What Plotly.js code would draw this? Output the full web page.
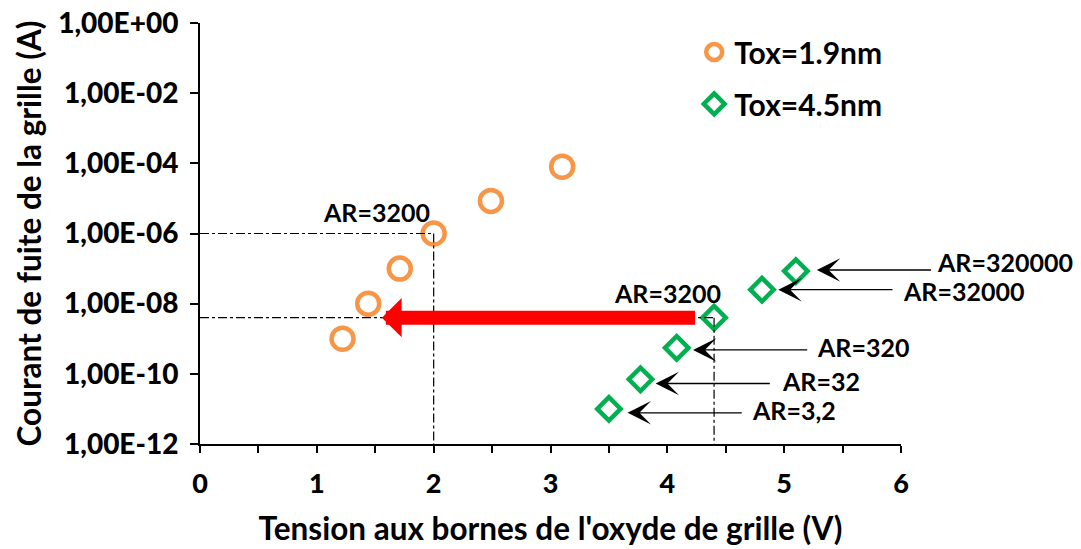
<!DOCTYPE html>
<html>
<head>
<meta charset="utf-8">
<script src="https://cdn.plot.ly/plotly-3.0.1.min.js"></script>
<style>html,body{margin:0;padding:0;background:#fff;}#chart{width:1081px;height:549px;}</style>
</head>
<body>
<div id="chart"></div>
<script>
// ---- data ----
var vThin = [1.22, 1.44, 1.71, 2.0, 2.49, 3.10];          // Tox=1.9nm, V
var iThin = [1e-9, 1e-8, 1e-7, 1e-6, 8.5e-6, 8e-5];       // A
var vThick = [3.50, 3.77, 4.08, 4.40, 4.81, 5.10];        // Tox=4.5nm, V
var iThick = [1e-11, 7e-11, 5.5e-10, 4e-9, 2.5e-8, 8.5e-8];
var thickLabels = ['AR=3,2', 'AR=32', 'AR=320', 'AR=3200', 'AR=32000', 'AR=320000'];
var yTickVals = [1e0, 1e-2, 1e-4, 1e-6, 1e-8, 1e-10, 1e-12];
var yTickText = ['1,00E+00', '1,00E-02', '1,00E-04', '1,00E-06', '1,00E-08', '1,00E-10', '1,00E-12'];
var xTickVals = [0, 0.5, 1, 1.5, 2, 2.5, 3, 3.5, 4, 4.5, 5, 5.5, 6];
var xTickText = ['0', '', '1', '', '2', '', '3', '', '4', '', '5', '', '6'];

var FONT = 'Lato, "Open Sans", sans-serif';
var orange = '#F79646', green = '#00B050';
var XMAX = 6;

var traces = [
  {x: vThin, y: iThin, type: 'scatter', mode: 'markers', name: '<b>Tox=1.9nm</b>', legendgroup: 'a',
   marker: {symbol: 'circle-open', size: 22, color: orange, line: {width: 4.5, color: orange}}},
  {x: vThick, y: iThick, type: 'scatter', mode: 'markers', name: '<b>Tox=4.5nm</b>', legendgroup: 'b',
   marker: {symbol: 'diamond-open', size: 18, color: green, line: {width: 4.5, color: green}}}
];

var lg = function (v) { return Math.log10(v); };
var ref = 3; // the AR=3200 points
var annFont = {family: FONT, size: 25, color: '#000', weight: 900};
var annotations = [];
// AR=3200 labels
annotations.push({x: vThin[ref] - 0.49, y: lg(iThin[ref]) + 0.62, xref: 'x', yref: 'y', text: '<b>AR=3200</b>', showarrow: false, font: annFont, borderpad: 0});
annotations.push({x: vThick[ref] - 0.40, y: lg(iThick[ref]) + 0.70, xref: 'x', yref: 'y', text: '<b>' + thickLabels[ref] + '</b>', showarrow: false, font: annFont, borderpad: 0});
// labels with black arrows for other thick points
var arrowIdx = [0, 1, 2, 4, 5];
var textDx = [1.581, 1.542, 1.591, 1.725, 1.786];
var textDy = [0.08, 0.08, 0.09, -0.04, 0.23];
var headDx = [0.16, 0.13, 0.14, 0.14, 0.18];
var headDy = [-0.11, -0.12, -0.06, 0.0, 0.03];
arrowIdx.forEach(function (k, j) {
  var hx = vThick[k] + headDx[j], hy = lg(iThick[k]) + headDy[j];
  annotations.push({x: hx, y: hy, ax: hx + 0.99, ay: hy, xref: 'x', yref: 'y', axref: 'x', ayref: 'y',
    text: '', showarrow: true, arrowhead: 3, arrowsize: 3.0, arrowwidth: 1.3, arrowcolor: '#000'});
  annotations.push({x: (vThick[k] + textDx[j]) / XMAX, y: hy + textDy[j], xref: 'paper', yref: 'y', xanchor: 'center',
    text: '<b>' + thickLabels[k] + '</b>', showarrow: false, font: annFont, borderpad: 0});
});
// big red arrow from the thick AR=3200 point to the thin curve
annotations.push({x: 1.557, y: lg(iThick[ref]), ax: vThick[ref] - 0.15, ay: lg(iThick[ref]), xref: 'x', yref: 'y', axref: 'x', ayref: 'y',
  text: '', showarrow: true, arrowhead: 1, arrowsize: 0.47, arrowwidth: 14, arrowcolor: '#FF0000'});

var dd = {color: '#000', width: 1.2, dash: 'dashdot'};
var shapes = [
  {type: 'line', xref: 'x', yref: 'y', x0: 0, x1: vThin[ref], y0: iThin[ref], y1: iThin[ref], line: dd},
  {type: 'line', xref: 'x', yref: 'y', x0: vThin[ref], x1: vThin[ref], y0: iThin[ref], y1: 1e-12, line: dd},
  {type: 'line', xref: 'x', yref: 'y', x0: 0, x1: vThick[ref], y0: iThick[ref], y1: iThick[ref], line: dd},
  {type: 'line', xref: 'x', yref: 'y', x0: vThick[ref], x1: vThick[ref], y0: iThick[ref], y1: 1e-12, line: dd}
];

var layout = {
  width: 1081, height: 549,
  margin: {l: 200, r: 180, t: 23, b: 105},
  paper_bgcolor: '#fff', plot_bgcolor: '#fff',
  font: {family: FONT, color: '#000'},
  showlegend: true,
  legend: {x: 0.705, y: 0.993, xanchor: 'left', yanchor: 'top', traceorder: 'grouped', tracegroupgap: 10,
    font: {family: FONT, size: 30, color: '#000', weight: 900}, bgcolor: 'rgba(0,0,0,0)'},
  xaxis: {range: [0, XMAX], showgrid: false, zeroline: false, showline: true, linecolor: '#000', linewidth: 2,
    tickmode: 'array', tickvals: xTickVals, ticktext: xTickText, ticks: 'outside', ticklen: 7, tickwidth: 2, tickcolor: '#000',
    tickfont: {family: FONT, size: 27, color: '#000', weight: 900}, ticklabelstandoff: 8,
    title: {text: "<b>Tension aux bornes de l'oxyde de grille (V)</b>", font: {family: FONT, size: 31.5, color: '#000', weight: 900}, standoff: 20}},
  yaxis: {type: 'log', range: [-12, 0], showgrid: false, zeroline: false, showline: true, linecolor: '#000', linewidth: 2,
    tickmode: 'array', tickvals: yTickVals, ticktext: yTickText, ticks: 'outside', ticklen: 8, tickwidth: 2, tickcolor: '#000',
    tickfont: {family: FONT, size: 28, color: '#000', weight: 900}, ticklabelstandoff: 6,
    title: {text: '<b>Courant de fuite de la grille (A)</b>', font: {family: FONT, size: 31.5, color: '#000', weight: 900}, standoff: 7}},
  annotations: annotations,
  shapes: shapes
};

Plotly.newPlot('chart', traces, layout, {displayModeBar: false, staticPlot: true});
</script>
</body>
</html>
